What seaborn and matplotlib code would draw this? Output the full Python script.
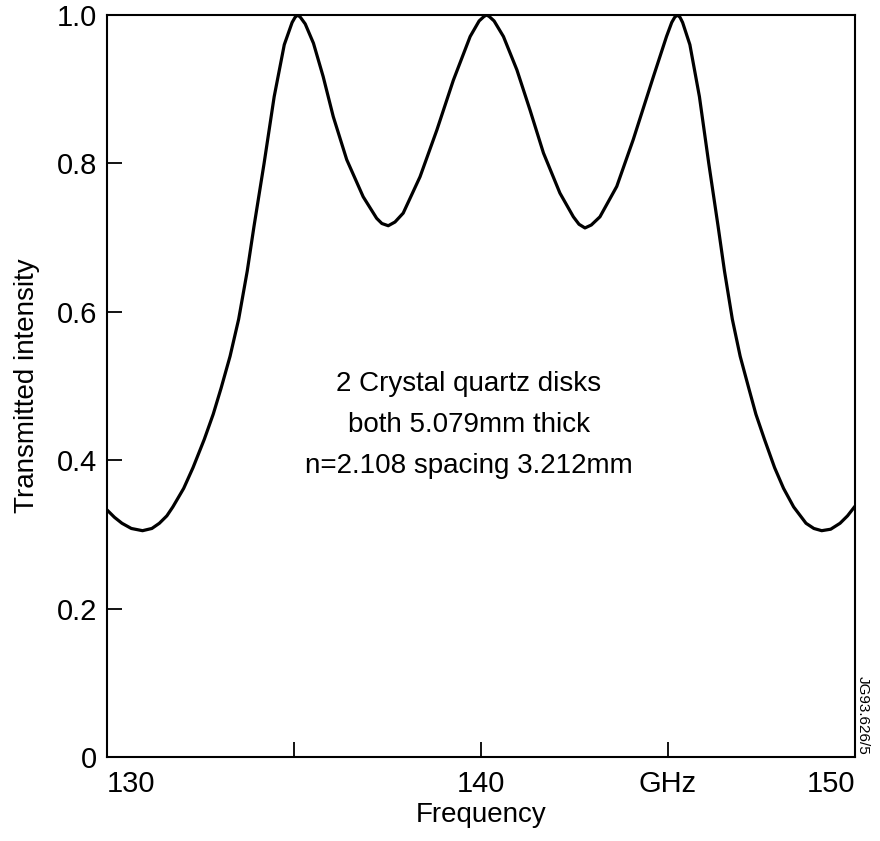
import matplotlib
matplotlib.use("Agg")
import matplotlib.pyplot as plt
import seaborn as sns
import pandas as pd

# Data
frequency = [130.0, 130.2, 130.4, 130.65, 130.95, 131.2, 131.4, 131.6, 131.76, 132.05,
             132.30, 132.6, 132.84, 133.05, 133.29, 133.52, 133.75, 133.93, 134.20, 134.47,
             134.74, 134.95, 135.03, 135.10, 135.17, 135.30, 135.52, 135.78, 136.05, 136.41,
             136.85, 137.21, 137.35, 137.52, 137.70, 137.92, 138.37, 138.82, 139.26, 139.71,
             139.95, 140.08, 140.15, 140.22, 140.35, 140.60, 140.96, 141.31, 141.67, 142.11,
             142.47, 142.62, 142.78, 142.95, 143.18, 143.63, 144.07, 144.61, 144.96, 145.10,
             145.18, 145.25, 145.32, 145.39, 145.585, 145.84, 146.09, 146.34, 146.51, 146.72,
             146.93, 147.16, 147.35, 147.58, 147.85, 148.09, 148.36, 148.69, 148.9, 149.11,
             149.35, 149.6, 149.8, 150.0]
intensity = [0.333, 0.323, 0.315, 0.308, 0.305, 0.308, 0.315, 0.325, 0.337, 0.362,
             0.390, 0.428, 0.462, 0.497, 0.540, 0.590, 0.655, 0.715, 0.800, 0.890,
             0.960, 0.990, 0.997, 1.000, 0.997, 0.988, 0.962, 0.917, 0.863, 0.805,
             0.755, 0.726, 0.719, 0.716, 0.721, 0.733, 0.782, 0.845, 0.912, 0.971,
             0.992, 0.998, 1.000, 0.998, 0.992, 0.971, 0.926, 0.872, 0.814, 0.760,
             0.728, 0.718, 0.713, 0.717, 0.728, 0.769, 0.832, 0.917, 0.971, 0.990,
             0.997, 1.000, 0.997, 0.990, 0.960, 0.890, 0.800, 0.715, 0.655, 0.590,
             0.540, 0.497, 0.462, 0.428, 0.390, 0.362, 0.337, 0.315, 0.308, 0.305,
             0.307, 0.315, 0.325, 0.338]

x_ticks = [130, 135, 140, 145, 150]
x_tick_labels = ["130", "", "140", "GHz", "150"]
y_ticks = [0, 0.2, 0.4, 0.6, 0.8, 1.0]
y_tick_labels = ["0", "0.2", "0.4", "0.6", "0.8", "1.0"]
annotation_lines = ["2 Crystal quartz disks", "both 5.079mm thick", "n=2.108 spacing 3.212mm"]
figure_code = "JG93.626/5"

df = pd.DataFrame({"Frequency": frequency, "Transmitted intensity": intensity})

sns.set_theme(style="white")
plt.rcParams["font.family"] = ["Liberation Sans", "DejaVu Sans"]

fig = plt.figure(figsize=(8.8, 8.41), dpi=100)
ax = fig.add_axes([107 / 880, 84 / 841, 748 / 880, 742 / 841])

sns.lineplot(data=df, x="Frequency", y="Transmitted intensity", ax=ax,
             color="black", linewidth=2.3, sort=True)

ax.set_xlim(130, 150)
ax.set_ylim(0, 1.0)
ax.set_xticks(x_ticks)
ax.set_xticklabels(x_tick_labels)
ax.set_yticks(y_ticks)
ax.set_yticklabels(y_tick_labels)
ax.tick_params(axis="both", direction="in", length=11, width=1.3, colors="black",
               labelsize=21, bottom=True, left=True, top=False, right=False)
ax.tick_params(axis="x", pad=9)
ax.tick_params(axis="y", pad=7)
xlabels = ax.get_xticklabels()
xlabels[0].set_horizontalalignment("left")
xlabels[-1].set_horizontalalignment("right")
for s in ax.spines.values():
    s.set_color("black")
    s.set_linewidth(1.5)

ax.set_xlabel("Frequency", fontsize=20, color="black", labelpad=3)
ax.set_ylabel("Transmitted intensity", fontsize=20, color="black", labelpad=12)

ax.text(139.68, 0.447, "\n".join(annotation_lines), ha="center", va="center",
        multialignment="center", fontsize=20, color="black", linespacing=1.75)

fig.text(863 / 880, 1 - 715 / 841, figure_code, rotation=-90, ha="center", va="center",
         fontsize=11, color="black")

fig.savefig("out.png", dpi=100)
